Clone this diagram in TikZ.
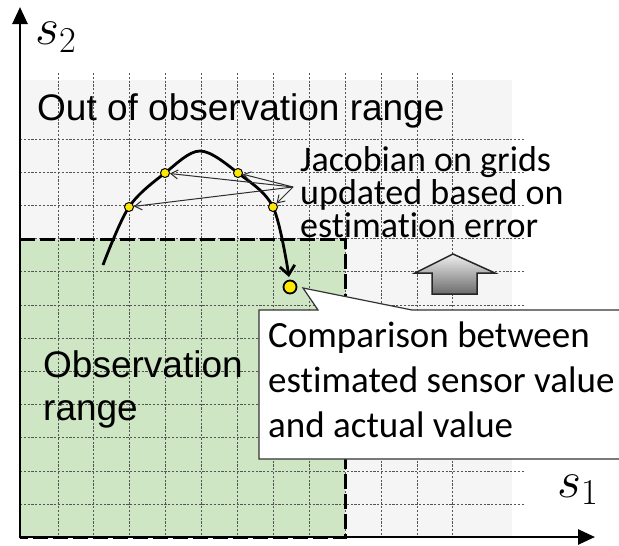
\documentclass[tikz,border=0pt]{standalone}
\usepackage{fix-cm}
\usepackage{fontspec}
\newfontfamily\arialf{Liberation Sans}
\newfontfamily\calf[Ligatures={NoCommon}]{Carlito}
\usetikzlibrary{arrows.meta,shadings}
\definecolor{obsgreen}{RGB}{207,230,196}
\definecolor{outgray}{RGB}{245,245,245}
\definecolor{gridc}{RGB}{85,85,85}
\definecolor{dotyel}{RGB}{255,232,0}
\definecolor{thinarr}{RGB}{45,45,45}
\tikzset{
  gridline/.style={gridc, line width=0.9pt, dash pattern=on 2.2pt off 1.6pt},
  obsborder/.style={black, line width=3pt, dash pattern=on 15pt off 5pt},
  axisline/.style={black, line width=2.6pt, -{Triangle[length=17pt,width=15pt]}},
  bigtext/.style={font=\arialf\fontsize{37}{43}\selectfont, inner sep=0pt, anchor=base west, align=left},
  caltext/.style={font=\calf\fontsize{36}{33}\selectfont, inner sep=0pt, anchor=base west, align=left},
  mathlbl/.style={font=\fontsize{52}{54}\selectfont, inner sep=0pt, anchor=base west},
  dot/.style={circle, draw=black, fill=dotyel, line width=1pt, inner sep=0pt, minimum size=9pt},
  bigdot/.style={circle, draw=black, fill=dotyel, line width=1.8pt, inner sep=0pt, minimum size=13pt},
  trajectory/.style={black, line width=2.8pt, -{Straight Barb[length=9pt,width=15pt]}},
  jarrow/.style={thinarr, line width=1pt, -{Straight Barb[length=7pt,width=9pt]}},
  blockarrow/.style={draw=black!85, line width=1.5pt, top color=black!6, bottom color=black!58, line join=miter},
  calloutbox/.style={draw=black!80, fill=white, line width=1.2pt, line join=miter}
}
\begin{document}
\begin{tikzpicture}[x=1pt,y=-1pt]
\clip (0,0) rectangle (619,546);
% regions
\fill[outgray] (20,80) rectangle (512,537);
\fill[obsgreen] (20,239) rectangle (345,537);
% grid
\foreach \i in {0,...,11} \draw[gridline] ({58+35.9*\i},73) -- ({58+35.9*\i},537);
\foreach \j in {0,...,11} \draw[gridline] (20,{139+33.2*\j}) -- (525,{139+33.2*\j});
% observation range border
\draw[obsborder] (20,239) -- (345,239) -- (345,537) -- (20,537);
% axes
\coordinate (O) at (20,537);
\coordinate (ytip) at (20,7);
\coordinate (xtip) at (595,537);
\draw[axisline] ([yshift=-1.3pt]O) -- (ytip);
\draw[axisline] ([xshift=-1.3pt]O) -- (xtip);
\node[mathlbl] (s2) at (35,45) {$s_2$};
\node[mathlbl] (s1) at (557,497) {$s_1$};
% region labels
\node[bigtext] (outlbl) at (37,120) {Out of observation range};
\node[bigtext] (obslbl) at (43,420) {Observation\\range};
% trajectory
\draw[trajectory] plot[smooth, tension=0.55] coordinates {(103,265) (129,207) (165,173) (200,151) (238,173) (273,207) (289,277)};
\node[dot] (d1) at (129,207) {};
\node[dot] (d2) at (165,173) {};
\node[dot] (d3) at (238,173) {};
\node[dot] (d4) at (273,207) {};
\node[bigdot] (dbig) at (290,287) {};
% jacobian label and arrows
\node[caltext] (jaclbl) at (300,237) {Jacobian on grids\\updated based on\\estimation error};
\coordinate (jsrc) at (293,187);
\draw[jarrow] (jsrc) -- (d1);
\draw[jarrow] (jsrc) -- (d2);
\draw[jarrow] (jsrc) -- (d3);
\draw[jarrow] (jsrc) -- (d4);
% block arrow
\draw[blockarrow] (453,254) -- (495,273) -- (477,273) -- (477,294) -- (432,294) -- (432,273) -- (415,273) -- cycle;
% callout
\draw[calloutbox] (259,310) -- (318,310) -- (303,288) -- (412,310) -- (640,310) -- (640,459) -- (259,459) -- cycle;
\node[caltext, font=\calf\fontsize{37}{45}\selectfont] (cmplbl) at (268,437) {Comparison between\\estimated sensor value\\and actual value};
\end{tikzpicture}
\end{document}
